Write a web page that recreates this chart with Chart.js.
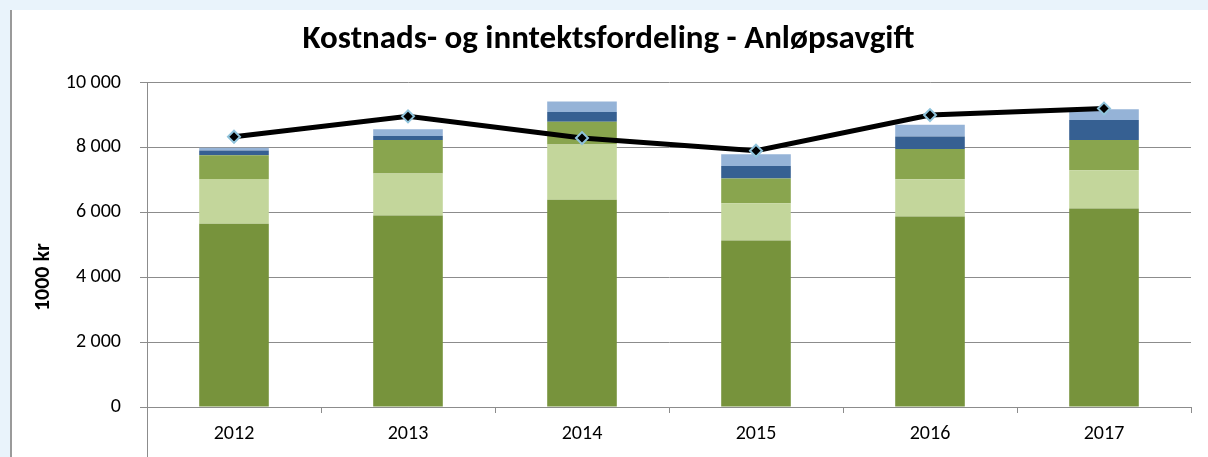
<!DOCTYPE html>
<html>
<head>
<meta charset="utf-8">
<script src="https://cdn.jsdelivr.net/npm/chart.js@4"></script>
<style>
  html, body { margin: 0; padding: 0; }
  body { width: 1208px; height: 457px; background: #e9f3fb; position: relative; overflow: hidden; }
  #panel { position: absolute; left: 10px; top: 10px; right: 0; bottom: 0; background: #fff; border-left: 2px solid #9a9a9a; }
  #costChart { position: absolute; left: 0; top: 0; }
</style>
</head>
<body>
<div id="panel"></div>
<canvas id="costChart" width="1208" height="457"></canvas>
<script>
const years = ["2012", "2013", "2014", "2015", "2016", "2017"];

// stacked parts, bottom to top (1000 kr)
const part1 = [5650, 5900, 6390, 5130, 5870, 6120];
const part2 = [1380, 1300, 1700, 1150, 1150, 1180];
const part3 = [730, 1030, 700, 760, 930, 930];
const part4 = [145, 125, 300, 390, 390, 620];
const part5 = [85, 205, 330, 360, 360, 330];

// income line
const income = [8330, 8960, 8290, 7900, 9000, 9200];

const yTicks = [0, 2000, 4000, 6000, 8000, 10000];

const font = "Calibri, Carlito, Lato, 'Open Sans', sans-serif";
const gridColor = "#8c8c8c";

function barSet(data, color){
    return {
        type: "bar",
        data: data,
        backgroundColor: color,
        borderWidth: 0,
        stack: "cost",
        order: 1,
        barPercentage: 0.4,
        categoryPercentage: 1.0
    };
}

// y axis line runs on past the 0 line down to the bottom edge
const axisExtend = {
    id: "axisExtend",
    afterDraw(chart){
        const c = chart.ctx;
        const a = chart.chartArea;
        c.save();
        c.strokeStyle = gridColor;
        c.lineWidth = 1;
        c.beginPath();
        c.moveTo(a.left + 0.5, a.bottom);
        c.lineTo(a.left + 0.5, chart.height);
        c.stroke();
        c.restore();
    }
};

const ctx = document.getElementById("costChart").getContext("2d");
new Chart(ctx, {
    data: {
        labels: years,
        datasets: [
            {
                type: "line",
                data: income,
                borderColor: "#000",
                borderWidth: 5,
                tension: 0,
                order: 0,
                pointStyle: "rectRot",
                pointRadius: 6,
                pointBackgroundColor: "#000",
                pointBorderColor: "#8fc3db",
                pointBorderWidth: 2
            },
            barSet(part1, "#77933c"),
            barSet(part2, "#c3d69b"),
            barSet(part3, "#89a54e"),
            barSet(part4, "#366092"),
            barSet(part5, "#95b3d7")
        ]
    },
    options: {
        responsive: false,
        animation: false,
        devicePixelRatio: 1,
        layout: { padding: { left: 26, right: 17, top: 0, bottom: 0 } },
        plugins: {
            legend: { display: false },
            tooltip: { enabled: false },
            title: {
                display: true,
                text: "Kostnads- og inntektsfordeling - Anløpsavgift",
                color: "#000",
                font: { family: font, size: 33, weight: "bold", lineHeight: 1.2 },
                padding: { top: 20, bottom: 23 }
            }
        },
        scales: {
            x: {
                stacked: true,
                grid: { drawOnChartArea: false, color: gridColor, tickLength: 6, offset: true },
                border: { color: gridColor, width: 1 },
                ticks: { color: "#000", font: { family: font, size: 20 }, padding: 9, maxRotation: 0, autoSkip: false },
                afterFit(scale){ scale.height = 50; }
            },
            y: {
                stacked: true,
                min: 0,
                max: 10000,
                afterBuildTicks(scale){ scale.ticks = yTicks.map(v => ({ value: v })); },
                grid: { color: gridColor, tickLength: 7 },
                border: { color: gridColor, width: 1 },
                ticks: {
                    color: "#000",
                    font: { family: font, size: 20 },
                    padding: 19,
                    callback: v => v.toLocaleString("en-US").replace(/,/g, " ")
                },
                title: {
                    display: true,
                    // trailing nbsp pushes the label down a bit, like the original
                    text: "1000 kr" + "\u00a0".repeat(13),
                    color: "#000",
                    font: { family: font, size: 22, weight: "bold", lineHeight: 1.2 },
                    padding: { top: 4, bottom: 4 }
                },
                afterFit(scale){ scale.width = 121; }
            }
        }
    },
    plugins: [axisExtend]
});
</script>
</body>
</html>
